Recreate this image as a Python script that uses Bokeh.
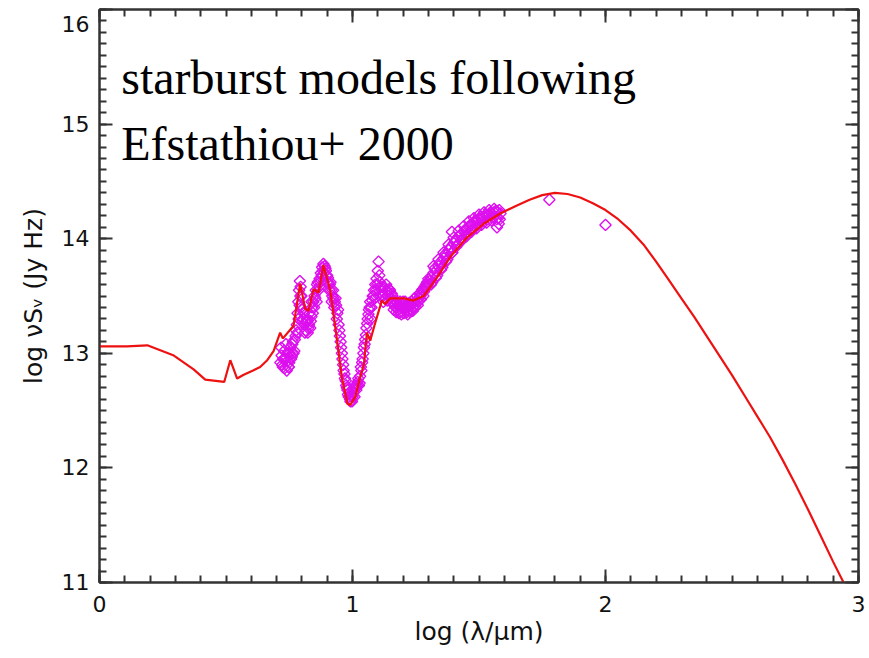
import numpy as np
from bokeh.plotting import figure
from bokeh.models import (Range1d, LinearAxis, SingleIntervalTicker, Label,
                          CustomJSTickFormatter)
from bokeh.embed import file_html
from bokeh.resources import INLINE

# ---- data (log lambda/um, log nu S_nu) ----
model_x = [0.0, 0.108, 0.189, 0.294, 0.372, 0.418, 0.493, 0.517, 0.544, 0.568,
           0.607, 0.635, 0.663, 0.688, 0.714, 0.725, 0.767, 0.793, 0.813, 0.826,
           0.846, 0.852, 0.866, 0.885, 0.912, 0.932, 0.958, 0.980, 0.991, 1.011,
           1.030, 1.045, 1.057, 1.070, 1.089, 1.116, 1.129, 1.149, 1.202, 1.241,
           1.281, 1.334, 1.386, 1.452, 1.518, 1.584, 1.650, 1.700, 1.750, 1.800,
           1.850, 1.900, 1.950, 2.000, 2.050, 2.100, 2.150, 2.200, 2.250, 2.300,
           2.350, 2.400, 2.450, 2.500, 2.550, 2.600, 2.650, 2.700, 2.750, 2.800,
           2.850, 2.900, 2.950, 2.970]
model_y = [13.06, 13.06, 13.07, 12.98, 12.86, 12.77, 12.75, 12.94, 12.78, 12.81,
           12.85, 12.88, 12.94, 13.02, 13.18, 13.13, 13.24, 13.61, 13.39, 13.37,
           13.56, 13.55, 13.53, 13.77, 13.55, 13.23, 12.79, 12.56, 12.55, 12.62,
           12.79, 12.90, 13.18, 13.11, 13.26, 13.46, 13.43, 13.48, 13.48, 13.46,
           13.50, 13.66, 13.84, 14.01, 14.13, 14.22, 14.29, 14.34, 14.38, 14.40,
           14.39, 14.36, 14.31, 14.25, 14.17, 14.07, 13.95, 13.80, 13.64, 13.48,
           13.32, 13.15, 12.98, 12.81, 12.63, 12.45, 12.27, 12.07, 11.86, 11.64,
           11.41, 11.18, 10.96, 10.87]

spec_x = [0.715, 0.720, 0.725, 0.730, 0.735, 0.740, 0.745, 0.750, 0.755, 0.760,
          0.765, 0.770, 0.775, 0.780, 0.783, 0.786, 0.789, 0.792, 0.795, 0.798,
          0.800, 0.805, 0.810, 0.815, 0.820, 0.825, 0.830, 0.835, 0.840, 0.845,
          0.850, 0.855, 0.860, 0.865, 0.870, 0.875, 0.880, 0.885, 0.890, 0.895,
          0.900, 0.905, 0.910, 0.915, 0.920, 0.925, 0.930, 0.935, 0.940, 0.945,
          0.950, 0.955, 0.960, 0.965, 0.970, 0.975, 0.980, 0.985, 0.990, 0.995,
          1.000, 1.005, 1.010, 1.015, 1.020, 1.025, 1.030, 1.035, 1.040, 1.045,
          1.050, 1.055, 1.060, 1.065, 1.070, 1.072, 1.080, 1.085, 1.090, 1.095,
          1.100, 1.103, 1.106, 1.110, 1.115, 1.120, 1.125, 1.130, 1.135, 1.140,
          1.145, 1.150, 1.155, 1.160, 1.165, 1.170, 1.175, 1.180, 1.185, 1.190,
          1.195, 1.200, 1.205, 1.210, 1.215, 1.220, 1.225, 1.230, 1.235, 1.240,
          1.245, 1.250, 1.255, 1.260, 1.265, 1.270, 1.275, 1.280, 1.285, 1.290,
          1.295, 1.300, 1.310, 1.320, 1.330, 1.340, 1.350, 1.360, 1.370, 1.380,
          1.390, 1.400, 1.410, 1.420, 1.430, 1.440, 1.450, 1.460, 1.470, 1.480,
          1.490, 1.500, 1.510, 1.520, 1.530, 1.540, 1.550, 1.560, 1.570, 1.580,
          1.315, 1.335, 1.355, 1.375, 1.395, 1.415, 1.435, 1.455, 1.475, 1.495,
          1.515, 1.535, 1.555, 1.575, 0.728, 0.748, 0.762, 0.808, 0.822, 0.838,
          0.982, 0.992, 1.002, 1.012, 1.393, 1.571]
spec_y = [12.92, 12.98, 12.88, 13.02, 12.95, 12.85, 13.00, 12.92, 13.05, 12.97,
          13.10, 13.02, 13.15, 13.25, 13.35, 13.45, 13.55, 13.63, 13.58, 13.50,
          13.38, 13.30, 13.25, 13.20, 13.30, 13.22, 13.35, 13.28, 13.40, 13.45,
          13.50, 13.55, 13.60, 13.55, 13.65, 13.70, 13.75, 13.78, 13.76, 13.72,
          13.68, 13.62, 13.60, 13.55, 13.50, 13.48, 13.45, 13.42, 13.35, 13.25,
          13.15, 13.05, 12.95, 12.85, 12.78, 12.72, 12.68, 12.62, 12.60, 12.63,
          12.62, 12.66, 12.70, 12.68, 12.75, 12.72, 12.80, 12.85, 12.95, 13.05,
          13.12, 13.22, 13.30, 13.38, 13.45, 13.30, 13.50, 13.55, 13.60, 13.65,
          13.72, 13.80, 13.68, 13.58, 13.55, 13.50, 13.58, 13.52, 13.55, 13.50,
          13.56, 13.48, 13.52, 13.45, 13.42, 13.40, 13.45, 13.38, 13.42, 13.36,
          13.40, 13.45, 13.38, 13.42, 13.36, 13.40, 13.44, 13.38, 13.45, 13.40,
          13.48, 13.43, 13.50, 13.45, 13.52, 13.47, 13.55, 13.50, 13.58, 13.60,
          13.62, 13.65, 13.66, 13.70, 13.72, 13.76, 13.80, 13.83, 13.87, 13.90,
          13.93, 13.96, 13.99, 14.02, 14.04, 14.06, 14.08, 14.10, 14.12, 14.14,
          14.15, 14.17, 14.18, 14.19, 14.20, 14.21, 14.22, 14.23, 14.24, 14.25,
          13.62, 13.68, 13.75, 13.82, 13.88, 13.95, 14.00, 14.04, 14.08, 14.12,
          14.15, 14.17, 14.19, 14.18, 12.95, 12.88, 13.00, 13.35, 13.28, 13.32,
          12.64, 12.58, 12.66, 12.72, 14.06, 14.10]

# second read of the same spectrum (interleaved samples, band thickness)
spec2_x = [0.718, 0.722, 0.727, 0.732, 0.737, 0.742, 0.747, 0.752, 0.757, 0.762,
           0.767, 0.772, 0.777, 0.782, 0.787, 0.791, 0.794, 0.797, 0.802, 0.807,
           0.812, 0.817, 0.823, 0.828, 0.833, 0.838, 0.843, 0.848, 0.853, 0.858,
           0.863, 0.868, 0.873, 0.878, 0.883, 0.888, 0.893, 0.898, 0.903, 0.908,
           0.913, 0.918, 0.923, 0.928, 0.933, 0.938, 0.943, 0.948, 0.953, 0.958,
           0.963, 0.968, 0.973, 0.978, 0.988, 0.998, 1.008, 1.018, 1.023, 1.028,
           1.033, 1.038, 1.043, 1.048, 1.053, 1.058, 1.063, 1.068, 1.075, 1.078,
           1.083, 1.088, 1.093, 1.098, 1.108, 1.112, 1.118, 1.122, 1.128, 1.133,
           1.138, 1.143, 1.148, 1.153, 1.158, 1.163, 1.168, 1.173, 1.178, 1.183,
           1.188, 1.193, 1.198, 1.203, 1.208, 1.213, 1.218, 1.223, 1.228, 1.233,
           1.238, 1.243, 1.248, 1.253, 1.258, 1.263, 1.268, 1.273, 1.278, 1.283,
           1.288, 1.293, 1.298, 1.305, 1.325, 1.345, 1.365, 1.385, 1.405, 1.425,
           1.445, 1.465, 1.485, 1.505, 1.525, 1.545, 1.565, 1.585, 1.582, 1.578]
spec2_y = [13.05, 12.90, 12.95, 12.87, 13.08, 12.93, 12.88, 13.00, 12.95, 13.08,
           13.00, 13.12, 13.20, 13.18, 13.30, 13.42, 13.50, 13.40, 13.28, 13.35,
           13.18, 13.28, 13.18, 13.25, 13.22, 13.45, 13.35, 13.40, 13.48, 13.45,
           13.62, 13.58, 13.62, 13.68, 13.72, 13.70, 13.74, 13.62, 13.66, 13.55,
           13.62, 13.45, 13.55, 13.40, 13.48, 13.30, 13.38, 13.20, 13.10, 13.00,
           12.90, 12.82, 12.76, 12.70, 12.66, 12.58, 12.62, 12.72, 12.78, 12.74,
           12.88, 12.92, 13.00, 13.08, 13.16, 13.26, 13.34, 13.40, 13.40, 13.46,
           13.50, 13.48, 13.55, 13.60, 13.62, 13.50, 13.58, 13.45, 13.48, 13.60,
           13.46, 13.52, 13.55, 13.45, 13.50, 13.38, 13.46, 13.36, 13.42, 13.35,
           13.45, 13.34, 13.42, 13.35, 13.45, 13.40, 13.34, 13.42, 13.36, 13.42,
           13.37, 13.44, 13.40, 13.46, 13.42, 13.48, 13.50, 13.52, 13.56, 13.54,
           13.57, 13.58, 13.60, 13.63, 13.74, 13.79, 13.86, 13.92, 13.98, 14.03,
           14.08, 14.12, 14.16, 14.19, 14.21, 14.23, 14.24, 14.22, 14.17, 14.13]

# band edges of the 20-38 um part of the spectrum
spec3_x = [1.31, 1.33, 1.35, 1.37, 1.39, 1.41, 1.43, 1.45, 1.47, 1.49,
           1.51, 1.53, 1.55, 1.57, 1.32, 1.34, 1.36, 1.38, 1.40, 1.42,
           1.44, 1.46, 1.48, 1.50, 1.52, 1.54, 1.56]
spec3_y = [13.60, 13.66, 13.73, 13.80, 13.87, 13.93, 13.98, 14.02, 14.06, 14.09,
           14.12, 14.14, 14.16, 14.17, 13.76, 13.82, 13.88, 13.95, 14.01, 14.07,
           14.11, 14.15, 14.18, 14.21, 14.23, 14.25, 14.26]

phot_x = [1.778, 2.000]
phot_y = [14.34, 14.12]

x_limits = (0, 3)
y_limits = (11, 16)

# ---- figure ----
p = figure(width=869, height=658,
           x_range=Range1d(*x_limits), y_range=Range1d(*y_limits),
           output_backend="svg", toolbar_location=None,
           min_border_left=99, min_border_right=11,
           min_border_top=9, min_border_bottom=76,
           x_axis_label="log (λ/μm)", y_axis_label="log νSᵥ (Jy Hz)")
p.xgrid.visible = False
p.ygrid.visible = False
p.background_fill_color = "white"
p.border_fill_color = "white"
p.outline_line_color = "#333333"
p.outline_line_width = 2

axis_color = "#333333"
TICK_FONT = "22px"


def style_axis(ax, show_labels=True):
    ax.ticker = SingleIntervalTicker(interval=1, num_minor_ticks=10)
    ax.axis_line_color = axis_color
    ax.axis_line_width = 2
    ax.major_tick_line_color = axis_color
    ax.major_tick_line_width = 2
    ax.minor_tick_line_color = axis_color
    ax.minor_tick_line_width = 2
    ax.major_tick_in = 13
    ax.major_tick_out = 0
    ax.minor_tick_in = 7
    ax.minor_tick_out = 0
    if show_labels:
        ax.major_label_text_font = "DejaVu Sans"
        ax.major_label_text_font_size = TICK_FONT
        ax.major_label_text_color = "#111111"
        ax.axis_label_text_font = "DejaVu Sans"
        ax.axis_label_text_font_size = "25px"
        ax.axis_label_text_font_style = "normal"
        ax.axis_label_text_color = "#111111"
    else:
        ax.formatter = CustomJSTickFormatter(code="return '';")
        ax.major_label_standoff = 0


for ax in p.xaxis:
    style_axis(ax)
    ax.major_label_standoff = 13
    ax.axis_label_standoff = 2
for ax in p.yaxis:
    style_axis(ax)
    ax.major_label_standoff = 10
    ax.axis_label_standoff = 11
    # the top label sits just below the frame corner, as in the reference
    ax.major_label_overrides = {16: "\n16"}
    ax.major_label_text_line_height = 0.45

top_axis = LinearAxis()
style_axis(top_axis, show_labels=False)
p.add_layout(top_axis, "above")
right_axis = LinearAxis()
style_axis(right_axis, show_labels=False)
p.add_layout(right_axis, "right")

# ---- glyphs ----
mag = "#dd10ee"
for xs, ys in [(spec_x, spec_y), (spec2_x, spec2_y), (spec3_x, spec3_y),
               (phot_x, phot_y)]:
    p.scatter(xs, ys, marker="square", angle=np.pi / 4, size=8,
              fill_color=None, line_color=mag, line_width=1.4)
p.line(model_x, model_y, line_color="#ee1111", line_width=2.2)

# ---- annotation text ----
for txt, yy in [("starburst models following", 15.41), ("Efstathiou+ 2000", 14.83)]:
    p.add_layout(Label(x=0.086, y=yy, text=txt, text_font="Liberation Serif",
                       text_font_size="48px", text_color="black",
                       text_baseline="alphabetic", text_align="left"))

open("out.html", "w").write(file_html(p, INLINE))
